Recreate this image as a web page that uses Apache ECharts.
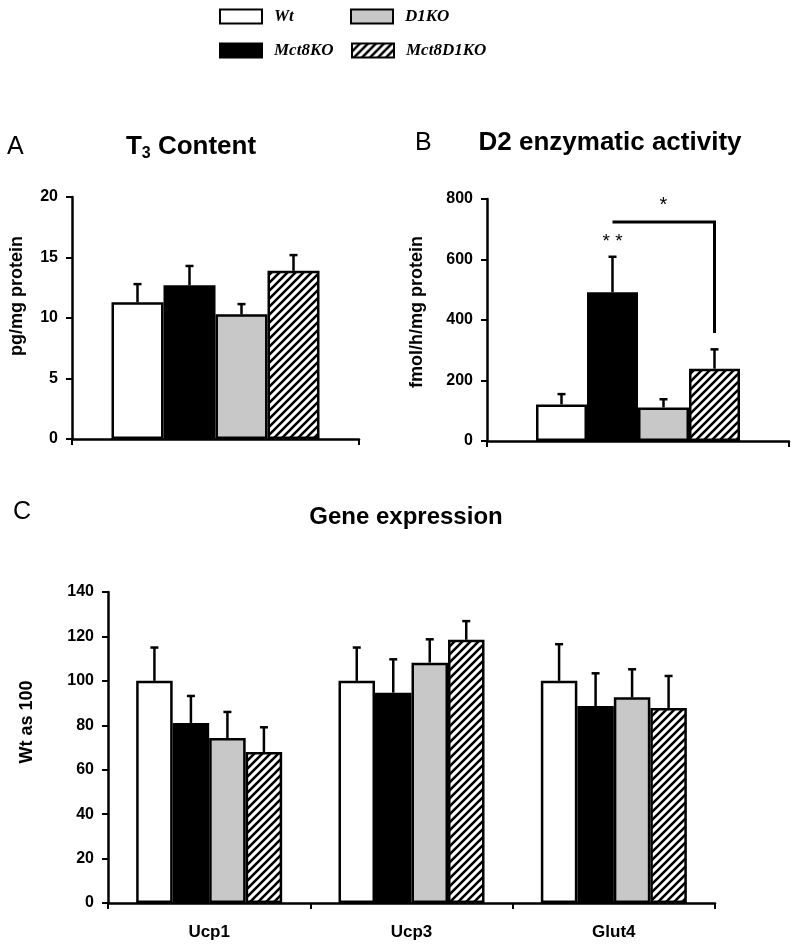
<!DOCTYPE html>
<html>
<head>
<meta charset="utf-8">
<script src="https://cdn.jsdelivr.net/npm/echarts@6/dist/echarts.min.js"></script>
<style>html,body{margin:0;padding:0;background:#fff;}#c{width:802px;height:952px;}</style>
</head>
<body>
<div id="c"></div>
<script>
// ---- data ----
const groups = ['Wt', 'Mct8KO', 'D1KO', 'Mct8D1KO'];
// Panel A: T3 content (pg/mg protein)
const t3Mean = [11.3, 12.7, 10.3, 13.9];
const t3Err = [1.5, 1.6, 0.85, 1.3];
const t3Ticks = {min: 0, max: 20, interval: 5};
// Panel B: D2 enzymatic activity (fmol/h/mg protein)
const d2Mean = [121, 492, 111, 239];
const d2Err = [34, 117, 27, 64];
const d2Ticks = {min: 0, max: 800, interval: 200};
const d2Bracket = {level: 724, bottom: 357, starLevel: 780, doubleStarLevel: 660};
// Panel C: gene expression (Wt as 100)
const genes = ['Ucp1', 'Ucp3', 'Glut4'];
const geneMean = {
  Wt: [100, 100, 100],
  Mct8KO: [81, 94.7, 88.7],
  D1KO: [74.3, 108.2, 92.6],
  Mct8D1KO: [68, 118.5, 87.8]
};
const geneErr = {
  Wt: [15, 15, 16.5],
  Mct8KO: [12.2, 15, 14.7],
  D1KO: [11.7, 10.5, 12.6],
  Mct8D1KO: [11.1, 8.4, 14.4]
};
const geneTicks = {min: 0, max: 140, interval: 20};

// ---- styles ----
const SANS = 'Liberation Sans, Arial, sans-serif';
const SERIF = 'Liberation Serif, Times New Roman, serif';

function hatch() {
  const s = 8;
  const cv = document.createElement('canvas');
  cv.width = s; cv.height = s;
  const g = cv.getContext('2d');
  g.fillStyle = '#fff'; g.fillRect(0, 0, s, s);
  g.strokeStyle = '#000'; g.lineWidth = 2.6; g.lineCap = 'square';
  g.beginPath();
  g.moveTo(0, s); g.lineTo(s, 0);
  g.moveTo(-s / 2, s / 2); g.lineTo(s / 2, -s / 2);
  g.moveTo(s / 2, s * 1.5); g.lineTo(s * 1.5, s / 2);
  g.stroke();
  return {image: cv, repeat: 'repeat'};
}
const fills = {Wt: '#ffffff', Mct8KO: '#000000', D1KO: '#c8c8c8', Mct8D1KO: hatch()};

const grids = [
  {left: 72, top: 197, width: 287, height: 242},
  {left: 487, top: 199, width: 302, height: 242},
  {left: 108, top: 592, width: 607, height: 311}
];
const barW = [52, 51, 36.5];

function yAxis(gi, t) {
  return {
    type: 'value', gridIndex: gi, min: t.min, max: t.max, interval: t.interval,
    axisLine: {show: true, lineStyle: {color: '#000', width: 2.5}},
    axisTick: {show: true, length: 6, lineStyle: {color: '#000', width: 2}},
    axisLabel: {color: '#000', fontFamily: SANS, fontWeight: 'bold', fontSize: 16, margin: 14},
    splitLine: {show: false}
  };
}
function xAxis(gi, cats, showLabel) {
  return {
    type: 'category', gridIndex: gi, data: cats,
    axisLine: {show: true, lineStyle: {color: '#000', width: 2.5}},
    axisTick: {show: true, length: 6, lineStyle: {color: '#000', width: 2}},
    axisLabel: {show: showLabel, color: '#000', fontFamily: SANS, fontWeight: 'bold', fontSize: 17, margin: 21},
    splitLine: {show: false}
  };
}

const series = [];
function addBars(gi, valuesByGroup) {
  groups.forEach((g, i) => {
    series.push({
      type: 'bar', name: g, xAxisIndex: gi, yAxisIndex: gi,
      data: valuesByGroup(g, i), barWidth: barW[gi], barGap: '0%',
      itemStyle: {color: fills[g], borderColor: '#000', borderWidth: 2.5},
      emphasis: {disabled: true}, z: 2
    });
  });
}
function errRender(gi) {
  return function (params, api) {
    const cat = api.value(0), idx = api.value(1), v = api.value(2), top = api.value(3);
    const c = api.coord([cat, v]);
    const t = api.coord([cat, top]);
    const x = c[0] + (idx - 1.5) * barW[gi];
    return {
      type: 'group', children: [
        {type: 'line', shape: {x1: x, y1: c[1], x2: x, y2: t[1]}, style: {stroke: '#000', lineWidth: 2.5}},
        {type: 'line', shape: {x1: x - 4, y1: t[1], x2: x + 4, y2: t[1]}, style: {stroke: '#000', lineWidth: 2.5}}
      ]
    };
  };
}
function addErr(gi, data) {
  series.push({type: 'custom', xAxisIndex: gi, yAxisIndex: gi, data: data, renderItem: errRender(gi), z: 5, silent: true});
}

// Panel A
addBars(0, (g, i) => [t3Mean[i]]);
addErr(0, groups.map((g, i) => [0, i, t3Mean[i], t3Mean[i] + t3Err[i]]));
// Panel B
addBars(1, (g, i) => [d2Mean[i]]);
addErr(1, groups.map((g, i) => [0, i, d2Mean[i], d2Mean[i] + d2Err[i]]));
series.push({
  type: 'custom', xAxisIndex: 1, yAxisIndex: 1, silent: true, z: 6,
  data: [[0, d2Bracket.level, d2Bracket.bottom, d2Bracket.starLevel, d2Bracket.doubleStarLevel]],
  renderItem: function (params, api) {
    const cx = api.coord([0, 0])[0];
    const x1 = cx + (1 - 1.5) * barW[1];
    const x2 = cx + (3 - 1.5) * barW[1];
    const yl = api.coord([0, api.value(1)])[1];
    const yb = api.coord([0, api.value(2)])[1];
    const ys = api.coord([0, api.value(3)])[1];
    const yd = api.coord([0, api.value(4)])[1];
    return {
      type: 'group', children: [
        {type: 'polyline', shape: {points: [[x1, yl], [x2, yl], [x2, yb]]}, style: {stroke: '#000', lineWidth: 3, fill: null}},
        {type: 'text', x: (x1 + x2) / 2, y: ys, style: {text: '*', font: '20px ' + SANS, fill: '#000', align: 'center', verticalAlign: 'middle'}},
        {type: 'text', x: x1, y: yd, style: {text: '* *', font: '19px ' + SANS, fill: '#000', align: 'center', verticalAlign: 'middle'}}
      ]
    };
  }
});
// Panel C
addBars(2, (g) => geneMean[g]);
addErr(2, [].concat(...groups.map((g, i) => genes.map((n, k) => [k, i, geneMean[g][k], geneMean[g][k] + geneErr[g][k]]))));

const legendBase = {
  icon: 'rect', itemWidth: 42, itemHeight: 14, padding: 0, selectedMode: false,
  itemStyle: {borderColor: '#000', borderWidth: 2},
  textStyle: {fontFamily: SERIF, fontStyle: 'italic', fontWeight: 'bold', fontSize: 17, color: '#000', padding: [0, 0, 0, 7]}
};
const legendPos = {Wt: [219, 8], D1KO: [350, 8], Mct8KO: [219, 42], Mct8D1KO: [351, 42]};
const legends = groups.map(g => Object.assign({}, legendBase, {data: [g], left: legendPos[g][0], top: legendPos[g][1]}));

function txt(x, y, text, font, align, rot) {
  return {type: 'text', x: x, y: y, rotation: rot || 0,
    style: {text: text, font: font, fill: '#000', align: align || 'center', verticalAlign: 'middle'}};
}
const graphics = [
  txt(7, 147, 'A', '25px ' + SANS, 'left'),
  {type: 'text', x: 191, y: 147, style: {
    text: '{b|T}{s|3}{b| Content}', align: 'center', verticalAlign: 'middle', fill: '#000',
    rich: {b: {fontFamily: SANS, fontWeight: 'bold', fontSize: 26, lineHeight: 30, verticalAlign: 'middle'},
           s: {fontFamily: SANS, fontWeight: 'bold', fontSize: 16, lineHeight: 16, verticalAlign: 'bottom'}}
  }},
  txt(415, 143, 'B', '25px ' + SANS, 'left'),
  txt(610, 143, 'D2 enzymatic activity', 'bold 26px ' + SANS),
  txt(13, 512, 'C', '25px ' + SANS, 'left'),
  txt(406, 517, 'Gene expression', 'bold 24px ' + SANS),
  txt(17, 296, 'pg/mg protein', 'bold 18px ' + SANS, 'center', Math.PI / 2),
  txt(417, 312, 'fmol/h/mg protein', 'bold 18px ' + SANS, 'center', Math.PI / 2),
  txt(27, 722, 'Wt as 100', 'bold 18px ' + SANS, 'center', Math.PI / 2)
];

const chart = echarts.init(document.getElementById('c'), null, {renderer: 'canvas'});
chart.setOption({
  animation: false,
  backgroundColor: '#fff',
  legend: legends,
  grid: grids,
  xAxis: [xAxis(0, [''], false), xAxis(1, [''], false), xAxis(2, genes, true)],
  yAxis: [yAxis(0, t3Ticks), yAxis(1, d2Ticks), yAxis(2, geneTicks)],
  series: series,
  graphic: graphics
});
</script>
</body>
</html>
